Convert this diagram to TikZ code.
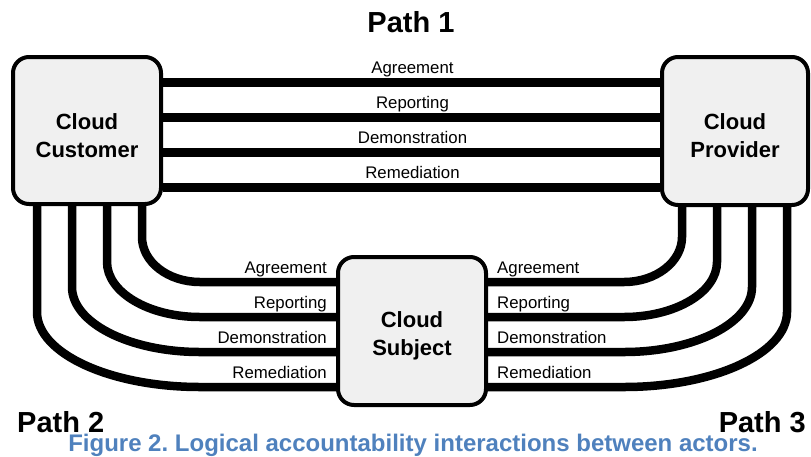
\documentclass[tikz,border=0pt]{standalone}
\usepackage{fontspec}
\setmainfont{Liberation Sans}
\usetikzlibrary{backgrounds}
\definecolor{capblue}{HTML}{4F81BD}
\definecolor{boxfill}{HTML}{F0F0F0}
\newcommand{\boxstrut}{\rule{0pt}{26pt}}
\frenchspacing
\begin{document}
\begin{tikzpicture}[x=1pt,y=-1pt,
  actor/.style={draw=black, line width=4pt, fill=boxfill, rounded corners=16pt, inner sep=0pt, align=center, font=\fontsize{22}{28}\selectfont\bfseries},
  link/.style={line width=8.5pt, draw=black},
  lbl/.style={font=\fontsize{16.8}{19}\selectfont, inner sep=0pt},
  pathlbl/.style={font=\fontsize{29}{34}\selectfont\bfseries, inner sep=0pt}]
\useasboundingbox (0,0) rectangle (811,456);
\node[actor, minimum width=148pt, minimum height=147pt] (cust) at (87,130.5) {\boxstrut Cloud\\Customer};
\node[actor, minimum width=146pt, minimum height=148pt] (prov) at (735,131) {\boxstrut Cloud\\Provider};
\node[actor, minimum width=148pt, minimum height=148pt] (subj) at (412,331) {\boxstrut Cloud\\Subject};

\node[pathlbl, anchor=base] (p1) at (411,32) {Path 1};
\node[pathlbl, anchor=base west] (p2) at (17,432) {Path 2};
\node[pathlbl, anchor=base east] (p3) at (806,432) {Path 3};
\node[font=\fontsize{24}{28}\selectfont\bfseries, text=capblue, inner sep=0pt, anchor=base] (cap) at (413,451.5) {Figure 2. Logical accountability interactions between actors.};

\foreach \i/\t in {0/Agreement,1/Reporting,2/Demonstration,3/Remediation}{
  \pgfmathsetmacro\yy{82.5+35*\i}
  \pgfmathsetmacro\ys{282+35*\i}
  \pgfmathsetmacro\aa{45+10*\i}
  \pgfmathsetmacro\xl{142-35*\i}
  \pgfmathsetmacro\xr{682+35*\i}
  \pgfmathsetmacro\bb{58+35*\i}
  \node[lbl, anchor=base] (top\i) at (412.5,\yy-9) {\t};
  \node[lbl, anchor=base east] (left\i) at (327,\ys-9) {\t};
  \node[lbl, anchor=base west] (right\i) at (497,\ys-9) {\t};
  \begin{scope}[on background layer]
    \draw[link] (cust.east |- 0,\yy) -- (prov.west |- 0,\yy);
    \draw[link] (cust.south -| \xl,0) -- (\xl,\ys-\aa)
      .. controls (\xl,\ys-0.448*\aa) and (\xl+0.448*\bb,\ys) .. (200,\ys)
      -- (subj.west |- 0,\ys);
    \draw[link] (prov.south -| \xr,0) -- (\xr,\ys-\aa)
      .. controls (\xr,\ys-0.448*\aa) and (\xr-0.448*\bb,\ys) .. (624,\ys)
      -- (subj.east |- 0,\ys);
  \end{scope}
}
\end{tikzpicture}
\end{document}
